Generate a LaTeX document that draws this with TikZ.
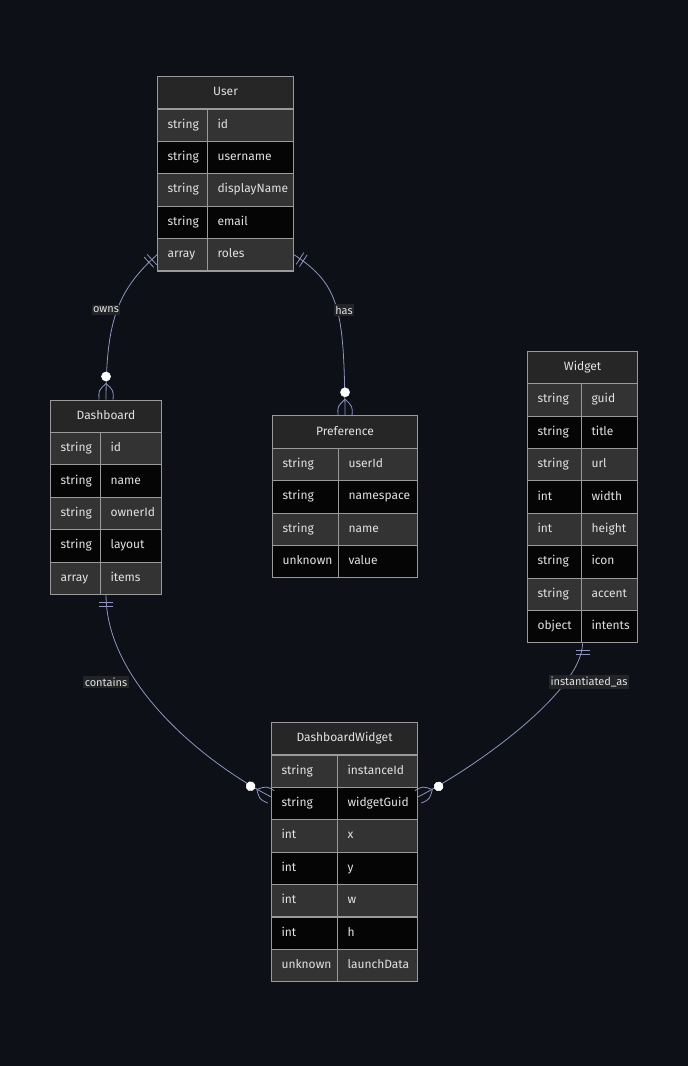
\documentclass[tikz,border=0pt]{standalone}
\usepackage{fontspec}
\setmainfont{Fira Sans}
\usetikzlibrary{calc}
\definecolor{bg}{HTML}{0D1017}
\definecolor{hdrfill}{HTML}{262626}
\definecolor{rowA}{HTML}{333333}
\definecolor{rowB}{HTML}{050505}
\definecolor{bord}{HTML}{9A9A9A}
\definecolor{edgec}{HTML}{9094BE}
\definecolor{txt}{HTML}{E2E2E2}
\definecolor{lblfill}{HTML}{232427}
\tikzset{
  cellbox/.style={draw=bord, line width=1.1pt, text=txt, font=\fontsize{12}{14}\selectfont,
    inner ysep=0pt, inner xsep=10pt, text height=8.5pt, text depth=2.5pt, align=left},
  hdrbox/.style={draw=bord, line width=1.1pt, fill=hdrfill, text=txt, font=\fontsize{12}{14}\selectfont,
    inner sep=0pt, text height=8.5pt, text depth=2.5pt},
  edge/.style={draw=edgec, line width=0.8pt},
  lbl/.style={fill=lblfill, text=txt, font=\fontsize{11}{13}\selectfont, inner xsep=1.5pt, inner ysep=2pt},
  onlyone/.pic={\draw[edge] (7,-7)--(7,7) (11,-7)--(11,7);},
  zeromany/.pic={\draw[edge] (-16,0) .. controls (-9,-7.5) .. (0,-7)
                             (-16,0) .. controls (-9,7.5) .. (0,7);
                 \filldraw[draw=white, fill=white] (-23,0) circle (4.6);}
}
\newcommand{\ertable}[7]{%
  \pgfmathsetmacro\wA{#4-#3}%
  \pgfmathsetmacro\wB{#5-#4}%
  \pgfmathsetmacro\wT{#5-#3}%
  \pgfmathsetmacro\tA{#4-#3-20}%
  \pgfmathsetmacro\tB{#5-#4-20}%
  \node[hdrbox, minimum width=\wT pt, minimum height=32.4pt, anchor=north west] (#1) at (#3,#6) {#2};
  \foreach \ty/\nm [count=\i] in {#7}{%
    \pgfmathsetmacro\yy{#6+32.4*\i}%
    \ifodd\i\def\rf{rowA}\else\def\rf{rowB}\fi
    \node[cellbox, fill=\rf, text width=\tA pt, minimum height=32.4pt, anchor=north west] (#1-t\i) at (#3,\yy) {\ty};
    \node[cellbox, fill=\rf, text width=\tB pt, minimum height=32.4pt, anchor=north west] (#1-n\i) at (#4,\yy) {\nm};
  }%
}
\begin{document}
\begin{tikzpicture}[x=1pt, y=-1pt]
\path[fill=bg, use as bounding box] (0,0) rectangle (688,1066);

\ertable{User}{User}{157}{207}{293}{76}{string/id, string/username, string/displayName, string/email, array/roles}
\ertable{Dashboard}{Dashboard}{50}{100}{161}{399.5}{string/id, string/name, string/ownerId, string/layout, array/items}
\ertable{Preference}{Preference}{272}{338}{417}{415.3}{string/userId, string/namespace, string/name, unknown/value}
\ertable{Widget}{Widget}{527}{581}{637}{350.7}{string/guid, string/title, string/url, int/width, int/height, string/icon, string/accent, object/intents}
\ertable{DW}{DashboardWidget}{271}{337}{417}{722}{string/instanceId, string/widgetGuid, int/x, int/y, int/w, int/h, unknown/launchData}

\coordinate (dbBot) at ($(Dashboard-t5.south west)!.5!(Dashboard-n5.south east)$);
\coordinate (wBot) at ($(Widget-t8.south west)!.5!(Widget-n8.south east)$);
\coordinate (dwL) at ($(DW-t2.north west)!.3!(DW-t2.south west)$);
\coordinate (dwR) at ($(DW-n2.north east)!.3!(DW-n2.south east)$);

% owns
\draw[edge] (User-t5.west) .. controls (118,290) and (106,320) .. (Dashboard.north);
\pic[rotate=223] at (User-t5.west) {onlyone};
\pic[rotate=-90] at (Dashboard.north) {zeromany};
% has
\draw[edge] (User-n5.east) .. controls (340,285) and (344,310) .. (Preference.north);
\pic[rotate=-33] at (User-n5.east) {onlyone};
\pic[rotate=-90] at (Preference.north) {zeromany};
% contains
\draw[edge] (dbBot) .. controls (106,680) and (200,760) .. (dwL);
\pic[rotate=-90] at (dbBot) {onlyone};
\pic[rotate=-27.5] at (dwL) {zeromany};
% instantiated_as
\draw[edge] (wBot) .. controls (582,690) and (480,765) .. (dwR);
\pic[rotate=-90] at (wBot) {onlyone};
\pic[rotate=207] at (dwR) {zeromany};

\node[lbl] (lOwns) at (106,310) {owns};
\node[lbl] (lHas) at (344,310) {has};
\node[lbl] (lContains) at (106,682) {contains};
\node[lbl] (lInst) at (589,682) {instantiated\_as};
\end{tikzpicture}
\end{document}
